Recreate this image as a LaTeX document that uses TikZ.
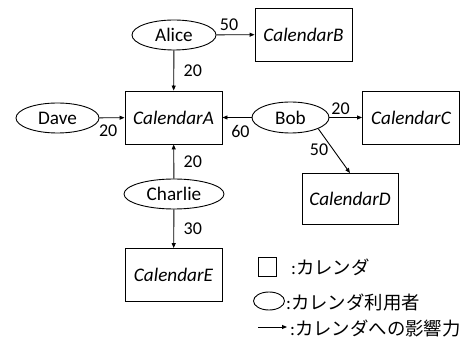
\documentclass[tikz,border=0pt]{standalone}
\usepackage{fontspec}
\setmainfont{Carlito}
\newfontfamily\jpfont{Noto Sans CJK JP}
\usetikzlibrary{arrows.meta,shapes.geometric}
\begin{document}
\begin{tikzpicture}[x=1pt,y=-1pt,
  cal/.style={draw, line width=0.9pt, minimum width=97pt, minimum height=53pt, inner sep=0pt, font=\fontsize{19.2}{21}\selectfont\itshape},
  usr/.style={draw, line width=0.9pt, ellipse, minimum height=30pt, inner sep=0pt, font=\fontsize{19.2}{21}\selectfont},
  inf/.style={-{Triangle[length=5pt,width=4pt]}, line width=0.9pt},
  lbl/.style={font=\fontsize{18}{20}\selectfont, inner sep=1.5pt},
  leg/.style={anchor=west, inner sep=0pt, font=\fontsize{18.4}{20}\selectfont}]
\useasboundingbox (0,0) rectangle (465,344);
% calendars
\node[cal] (A) at (173.5,117.5) {CalendarA};
\node[cal] (B) at (303.5,34.5) {CalendarB};
\node[cal] (C) at (411,117.5) {CalendarC};
\node[cal, minimum width=96pt, minimum height=51pt] (D) at (350,199) {CalendarD};
\node[cal] (E) at (173.5,275) {CalendarE};
% users
\node[usr, minimum width=84pt] (alice) at (174,35) {Alice};
\node[usr, minimum width=83pt] (dave) at (57.5,118) {Dave};
\node[usr, minimum width=77pt, minimum height=31pt] (bob) at (290.5,117.5) {Bob};
\node[usr, minimum width=100pt] (charlie) at (174,194) {Charlie};
% influences
\draw[inf] (alice) -- node[lbl, pos=0.33, above=2pt] {50} (B);
\draw[inf] (alice) -- node[lbl, right=8pt] {20} (A);
\draw[inf] (dave) -- node[lbl, pos=0.35, below=5.5pt] {20} (A);
\draw[inf] (bob) -- node[lbl, pos=0.38, below=5.5pt] {60} (A);
\draw[inf] (bob) -- node[lbl, pos=0.34, above=0.5pt] {20} (C);
\draw[inf] (bob.-22) -- node[lbl, pos=0.47, left=3pt] {50} (D.north);
\draw[inf] (charlie) -- node[lbl, right=8pt] {20} (A);
\draw[inf] (charlie) -- node[lbl, right=8pt] {30} (E);
% legend
\node[draw, line width=0.9pt, minimum width=18pt, minimum height=19pt, inner sep=0pt] (lsq) at (267,267) {};
\node[leg] (lt1) at (291,267) {:\jpfont カレンダ};
\node[draw, line width=0.9pt, ellipse, minimum width=31pt, minimum height=18pt, inner sep=0pt] (lel) at (269,301) {};
\node[leg] (lt2) at (286,302) {:\jpfont カレンダ利用者};
\coordinate (la1) at (258,327);
\coordinate (la2) at (287,327);
\draw[inf] (la1) -- (la2);
\node[leg] (lt3) at (290,328) {:\jpfont カレンダへの影響力};
\end{tikzpicture}
\end{document}
